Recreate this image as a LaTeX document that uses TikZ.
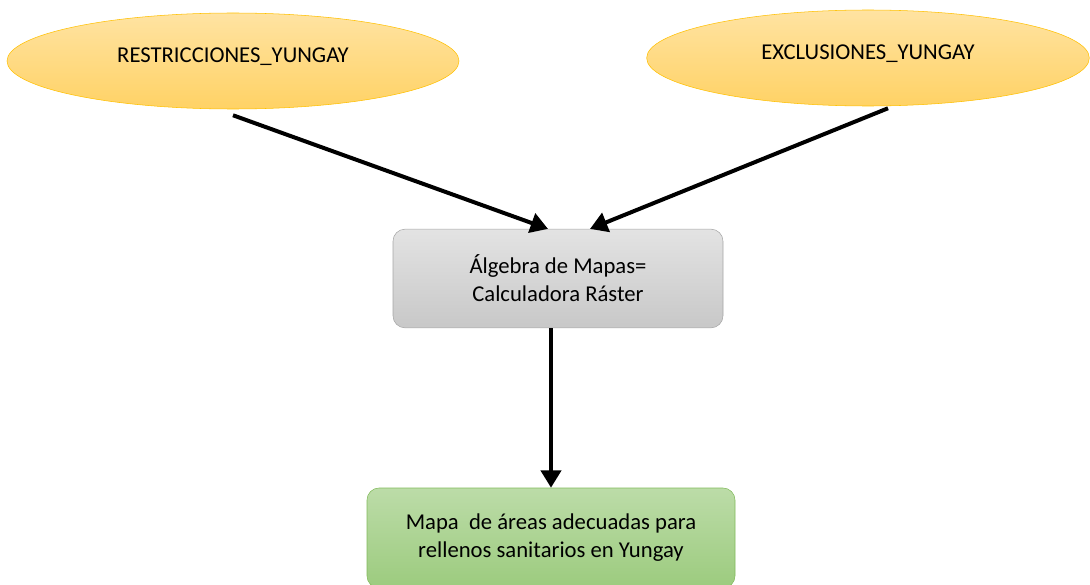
\documentclass[tikz,border=0pt]{standalone}
\usepackage{fontspec}
\setmainfont{Carlito}
\usetikzlibrary{shapes, calc, arrows.meta}

\definecolor{elliptop}{HTML}{FFE3A2}
\definecolor{ellipbot}{HTML}{FFD265}
\definecolor{ellipline}{HTML}{FFC000}
\definecolor{graytop}{HTML}{E3E3E3}
\definecolor{graybot}{HTML}{C8C8C8}
\definecolor{grayline}{HTML}{A6A6A6}
\definecolor{greentop}{HTML}{BCDCA8}
\definecolor{greenbot}{HTML}{9CCB7E}
\definecolor{greenline}{HTML}{82BA5C}

\begin{document}
\begin{tikzpicture}[x=0.75pt, y=-0.75pt,
	every node/.style={font=\fontsize{17}{21}\selectfont, align=center},
	entrada/.style={draw=ellipline, ellipse, top color=elliptop, bottom color=ellipbot,
		minimum width=339pt, minimum height=72pt, inner sep=0pt, text depth=9pt},
	caja/.style={draw, rectangle, rounded corners=9pt, inner sep=0pt},
	flecha/.style={-{Triangle[length=13pt, width=15pt]}, line width=3pt}]
	\def \w {1090}
	\def \h {585}
	
	\clip (0,0) rectangle (\w,\h);
	
	\node[entrada] (restricciones) at (233,61) {RESTRICCIONES\_YUNGAY};
	\node[entrada, minimum width=332pt] (exclusiones) at (868,58)
		{EXCLUSIONES\_YUNGAY};
	
	\node[caja, draw=grayline, top color=graytop, bottom color=graybot,
		minimum width=247.5pt, minimum height=74pt] (algebra) at (558,278.5)
		{Álgebra de Mapas=\\Calculadora Ráster};
	\node[caja, draw=greenline, top color=greentop, bottom color=greenbot,
		minimum width=276pt, minimum height=75pt] (mapa) at (551,538)
		{Mapa~ de áreas adecuadas para\\rellenos sanitarios en Yungay};
	
	\coordinate (salida1) at ($(restricciones.south)+(0,6)$);
	\coordinate (salida2) at ($(exclusiones.south)+(20,2)$);
	
	\draw[flecha] (salida1) -- ($(algebra.north)+(-10,0)$);
	\draw[flecha] (salida2) -- ($(algebra.north)+(32,0)$);
	\draw[flecha] (algebra.south -| mapa.north) -- (mapa.north);
\end{tikzpicture}
\end{document}
